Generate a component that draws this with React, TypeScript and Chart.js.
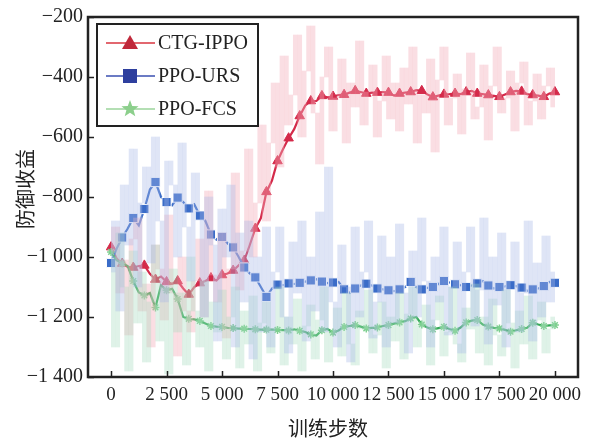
import React, { useEffect, useRef } from "react";
import { Chart, registerables } from "chart.js";

Chart.register(...registerables);

// smoothed curves, one value every 250 training steps (0 .. 20000)
const SMOOTH_STEP = 250;
const ctgSmooth = [
  -967, -1005, -1022, -1033, -1035, -1030, -1028, -1056, -1075, -1065, -1083, -1089, -1080, -1105, -1125, -1100,
  -1087, -1080, -1070, -1078, -1060, -1055, -1045, -1028, -1012, -960, -905, -870, -783, -745, -680, -640,
  -604, -574, -530, -495, -480, -480, -463, -468, -465, -460, -459, -452, -446, -450, -455, -452,
  -452, -450, -452, -462, -455, -452, -450, -444, -446, -458, -467, -462, -458, -457, -455, -457,
  -450, -446, -455, -457, -460, -463, -466, -458, -450, -446, -448, -457, -460, -462, -466, -455, -450,
];
const ursSmooth = [
  -1020, -972, -935, -905, -870, -895, -840, -775, -750, -800, -817, -828, -802, -817, -838, -825,
  -862, -880, -925, -942, -933, -955, -968, -1000, -1035, -1055, -1068, -1100, -1133, -1105, -1092, -1094,
  -1088, -1090, -1086, -1082, -1078, -1074, -1082, -1087, -1085, -1083, -1108, -1120, -1105, -1095, -1089, -1095,
  -1105, -1108, -1111, -1114, -1108, -1100, -1083, -1100, -1108, -1103, -1100, -1090, -1080, -1085, -1091, -1094,
  -1100, -1095, -1088, -1080, -1095, -1105, -1100, -1098, -1094, -1097, -1102, -1113, -1108, -1105, -1097, -1083, -1086,
];
const fcsSmooth = [
  -983, -1011, -1022, -1030, -1080, -1118, -1128, -1120, -1168, -1094, -1111, -1106, -1140, -1200, -1206, -1208,
  -1213, -1222, -1230, -1232, -1233, -1236, -1237, -1239, -1239, -1240, -1241, -1242, -1242, -1242, -1243, -1244,
  -1245, -1241, -1246, -1250, -1258, -1262, -1244, -1240, -1252, -1245, -1233, -1230, -1227, -1232, -1238, -1236,
  -1235, -1230, -1227, -1222, -1218, -1214, -1205, -1200, -1225, -1235, -1241, -1237, -1233, -1240, -1246, -1235,
  -1218, -1212, -1210, -1225, -1232, -1236, -1238, -1243, -1249, -1244, -1240, -1236, -1219, -1225, -1230, -1228, -1227,
];

// raw (unsmoothed) returns, one value every 200 training steps (0 .. 20000)
const RAW_STEP = 200;
const ctgRaw = [
  -980, -900, -1120, -1010, -1260, -940, -870, -1180, -1090, -1300, -960, -1040, -1210, -860, -1120, -1330,
  -1000, -1180, -1250, -1080, -940, -1200, -780, -1060, -1150, -920, -1270, -1040, -720, -1110, -980, -640,
  -1000, -820, -560, -880, -620, -420, -700, -330, -560, -460, -260, -600, -380, -230, -520, -690,
  -400, -300, -580, -470, -340, -620, -420, -500, -280, -560, -450, -360, -600, -480, -330, -540,
  -420, -580, -370, -490, -300, -620, -460, -520, -340, -650, -410, -300, -560, -470, -390, -590,
  -440, -320, -540, -500, -360, -610, -430, -300, -520, -470, -380, -580, -420, -350, -560, -480,
  -390, -540, -430, -370, -500,
];
const ursRaw = [
  -1050, -880, -1180, -760, -960, -640, -1100, -820, -700, -1020, -600, -880, -1150, -680, -760, -1000,
  -620, -900, -1080, -720, -850, -1200, -800, -960, -1280, -840, -1000, -760, -1300, -920, -1150, -880,
  -1340, -1000, -1250, -900, -1300, -1050, -900, -1200, -1320, -950, -1120, -880, -1280, -1000, -1180, -850,
  -1250, -700, -1150, -1300, -960, -1100, -1350, -900, -1200, -1050, -880, -1270, -1150, -930, -1300, -1000,
  -1220, -890, -1120, -1320, -980, -1200, -870, -1080, -1300, -1000, -1150, -900, -1260, -1100, -950, -1320,
  -1050, -900, -1230, -1110, -870, -1290, -1000, -1160, -920, -1300, -1080, -950, -1250, -1120, -880, -1280,
  -1020, -1200, -930, -1150, -1050,
];
const fcsRaw = [
  -1000, -1300, -920, -1100, -1380, -980, -1220, -1050, -1350, -1150, -960, -1280, -1100, -1390, -1040, -1250,
  -1120, -1360, -1000, -1180, -1300, -1080, -1380, -1150, -1250, -1110, -1340, -1200, -1100, -1370, -1180, -1290,
  -1130, -1380, -1220, -1150, -1320, -1240, -1100, -1360, -1200, -1290, -1140, -1380, -1230, -1160, -1340, -1210,
  -1100, -1350, -1250, -1170, -1330, -1120, -1290, -1360, -1180, -1240, -1110, -1320, -1260, -1150, -1370, -1200,
  -1280, -1120, -1340, -1190, -1100, -1300, -1230, -1160, -1360, -1210, -1130, -1330, -1250, -1100, -1290, -1350,
  -1170, -1240, -1090, -1320, -1200, -1360, -1140, -1260, -1330, -1110, -1220, -1370, -1180, -1290, -1130, -1340,
  -1210, -1150, -1320, -1240, -1200,
];

const seriesNames = ["CTG-IPPO", "PPO-URS", "PPO-FCS"];
const xTicks = [0, 2500, 5000, 7500, 10000, 12500, 15000, 17500, 20000];
const yTicks = [-1400, -1200, -1000, -800, -600, -400, -200];
const xTitle = "训练步数";
const yTitle = "防御收益";

const SERIF = "'Liberation Serif', 'Times New Roman', serif";
const CJK = "'Noto Sans CJK SC', sans-serif";

function fmt(v: number): string {
  const a = Math.abs(v);
  let s = String(a);
  if (a >= 1000) s = s.slice(0, s.length - 3) + " " + s.slice(s.length - 3);
  return (v < 0 ? "\u2212" : "") + s;
}

function toXY(arr: number[], step: number) {
  return arr.map((y, i) => ({ x: i * step, y }));
}

// each raw swing between consecutive samples is drawn as a thin vertical bar
function toSwings(arr: number[], step: number) {
  const out: { x: number; y: [number, number] }[] = [];
  for (let i = 0; i < arr.length - 1; i++) {
    out.push({ x: i * step + step / 2, y: [arr[i], arr[i + 1]] });
  }
  return out;
}

const legendItems = [
  { name: seriesNames[0], line: "#d9343f", fill: "#c0283a", style: "triangle" },
  { name: seriesNames[1], line: "#3a4fb0", fill: "#2e3f9e", style: "rect" },
  { name: seriesNames[2], line: "#9bd49b", fill: "#8ccf8c", style: "star" },
];

const framePlugin = {
  id: "framePlugin",
  afterDraw(chart: any) {
    const ctx = chart.ctx as CanvasRenderingContext2D;
    const { left, right, top, bottom } = chart.chartArea;
    const xs = chart.scales.x;
    const ys = chart.scales.y;
    ctx.save();
    ctx.strokeStyle = "#222";
    ctx.lineWidth = 1.5;
    xTicks.forEach((v) => {
      const px = Math.round(xs.getPixelForValue(v)) + 0.5;
      ctx.beginPath();
      ctx.moveTo(px, bottom);
      ctx.lineTo(px, bottom - 6);
      ctx.stroke();
    });
    yTicks.forEach((v) => {
      const py = Math.round(ys.getPixelForValue(v)) + 0.5;
      ctx.beginPath();
      ctx.moveTo(left, py);
      ctx.lineTo(left + 6, py);
      ctx.stroke();
    });
    ctx.lineWidth = 2.5;
    ctx.strokeStyle = "#222";
    ctx.strokeRect(left, top, right - left, bottom - top);

    ctx.fillStyle = "#222";
    ctx.font = `20px ${CJK}`;
    ctx.textAlign = "center";
    ctx.textBaseline = "middle";
    ctx.fillText(xTitle, (left + right) / 2 - 5, 428);
    ctx.save();
    ctx.translate(25, (top + bottom) / 2 - 8);
    ctx.rotate(-Math.PI / 2);
    ctx.fillText(yTitle, 0, 0);
    ctx.restore();

    const bx = left + 9, by = top + 7, bw = 161, bh = 102;
    ctx.fillStyle = "#fff";
    ctx.fillRect(bx, by, bw, bh);
    ctx.lineWidth = 2;
    ctx.strokeStyle = "#222";
    ctx.strokeRect(bx, by, bw, bh);
    legendItems.forEach((it, i) => {
      const cy = by + 19 + i * 33;
      ctx.strokeStyle = it.line;
      ctx.lineWidth = 1.5;
      ctx.beginPath();
      ctx.moveTo(bx + 9, cy);
      ctx.lineTo(bx + 58, cy);
      ctx.stroke();
      const cx = bx + 33;
      ctx.fillStyle = it.fill;
      if (it.style === "triangle") {
        ctx.beginPath();
        ctx.moveTo(cx, cy - 8);
        ctx.lineTo(cx + 8, cy + 6);
        ctx.lineTo(cx - 8, cy + 6);
        ctx.closePath();
        ctx.fill();
      } else if (it.style === "rect") {
        ctx.fillRect(cx - 7, cy - 7, 14, 14);
      } else {
        ctx.beginPath();
        for (let k = 0; k < 10; k++) {
          const r = k % 2 === 0 ? 9 : 3.8;
          const a = -Math.PI / 2 + (k * Math.PI) / 5;
          const px = cx + r * Math.cos(a);
          const py = cy + r * Math.sin(a);
          if (k === 0) ctx.moveTo(px, py);
          else ctx.lineTo(px, py);
        }
        ctx.closePath();
        ctx.fill();
      }
      ctx.fillStyle = "#222";
      ctx.font = `20px ${SERIF}`;
      ctx.textAlign = "left";
      ctx.textBaseline = "middle";
      ctx.fillText(it.name, bx + 61, cy + 1);
    });
    ctx.restore();
  },
};

export default function App() {
  const ref = useRef<HTMLCanvasElement | null>(null);
  useEffect(() => {
    document.body.style.margin = "0";
    const canvas = ref.current;
    if (!canvas) return;
    const markR = (r: number) => (c: any) => (c.dataIndex % 2 === 0 ? r : 0);
    const rawBar = (data: any, color: string) => ({
      type: "bar",
      data,
      backgroundColor: color,
      borderWidth: 0,
      barThickness: 4,
      grouped: false,
    });
    const chart = new Chart(canvas, {
      type: "line",
      data: {
        datasets: [
          rawBar(toSwings(ursRaw, RAW_STEP), "rgba(165,182,230,0.36)"),
          rawBar(toSwings(fcsRaw, RAW_STEP), "rgba(165,220,190,0.36)"),
          rawBar(toSwings(ctgRaw, RAW_STEP), "rgba(242,172,186,0.4)"),
          {
            label: seriesNames[2],
            data: toXY(fcsSmooth, SMOOTH_STEP),
            borderColor: "#35a957",
            borderWidth: 2.2,
            pointStyle: "star",
            pointRadius: markR(4),
            pointBorderColor: "#7ccf8e",
            pointBackgroundColor: "#7ccf8e",
            pointBorderWidth: 1.5,
          },
          {
            label: seriesNames[1],
            data: toXY(ursSmooth, SMOOTH_STEP),
            borderColor: "#3a6cc8",
            borderWidth: 2.2,
            pointStyle: "rect",
            pointRadius: markR(6.5),
            pointBackgroundColor: "#3a6cc8",
            pointBorderColor: "#ffffff",
            pointBorderWidth: 1,
          },
          {
            label: seriesNames[0],
            data: toXY(ctgSmooth, SMOOTH_STEP),
            borderColor: "#d42a4a",
            borderWidth: 2.2,
            pointStyle: "triangle",
            pointRadius: markR(5.5),
            pointBackgroundColor: "#d42a4a",
            pointBorderColor: "#d42a4a",
            pointBorderWidth: 1,
          },
        ],
      },
      options: {
        animation: false,
        responsive: false,
        devicePixelRatio: 1,
        layout: { padding: { top: 16, right: 17, left: 0, bottom: 0 } },
        plugins: { legend: { display: false }, tooltip: { enabled: false } },
        elements: { line: { tension: 0 } },
        scales: {
          x: {
            type: "linear",
            min: -1040,
            max: 21040,
            offset: false,
            grid: { display: false, drawTicks: false, offset: false },
            border: { display: false },
            afterBuildTicks: (axis: any) => {
              axis.ticks = xTicks.map((v) => ({ value: v }));
            },
            afterFit: (axis: any) => {
              axis.height = 62;
            },
            ticks: {
              autoSkip: false,
              maxRotation: 0,
              padding: 7,
              color: "#222",
              font: { family: SERIF, size: 19 },
              callback: (v: any) => fmt(Number(v)),
            },
          },
          y: {
            type: "linear",
            min: -1400,
            max: -200,
            grid: { display: false, drawTicks: false },
            border: { display: false },
            afterBuildTicks: (axis: any) => {
              axis.ticks = yTicks.map((v) => ({ value: v }));
            },
            afterFit: (axis: any) => {
              axis.width = 88;
            },
            ticks: {
              padding: 5,
              color: "#222",
              font: { family: SERIF, size: 20 },
              callback: (v: any) => fmt(Number(v)),
            },
          },
        },
      },
      plugins: [framePlugin],
    } as any);
    return () => chart.destroy();
  }, []);
  return (
    <div style={{ width: 595, height: 439 }}>
      <canvas ref={ref} width={595} height={439} style={{ display: "block" }} />
    </div>
  );
}
